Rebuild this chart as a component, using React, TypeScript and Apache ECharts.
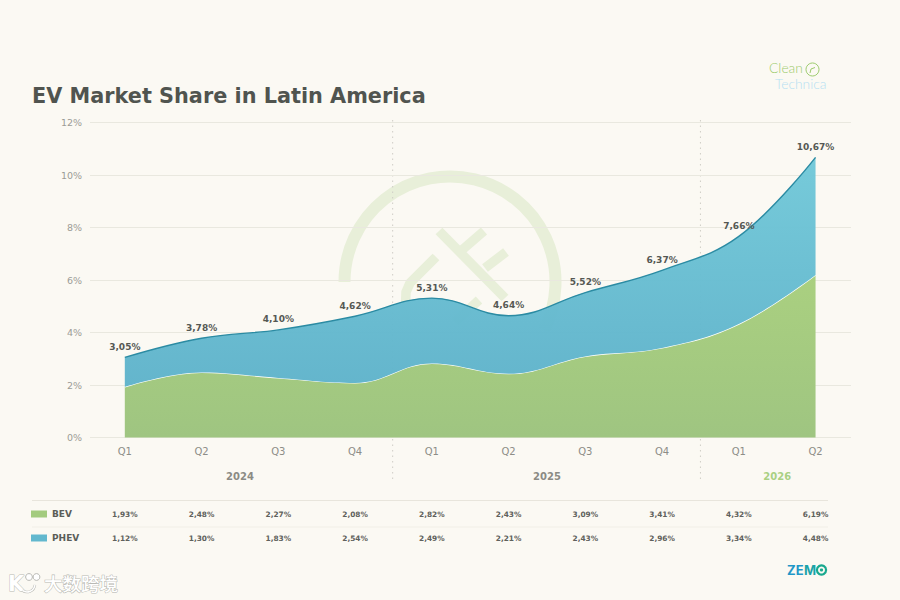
import React, { useEffect, useRef } from "react";
import * as echarts from "echarts";

const quarters = ["Q1", "Q2", "Q3", "Q4", "Q1", "Q2", "Q3", "Q4", "Q1", "Q2"];
const bev = [1.93, 2.48, 2.27, 2.08, 2.82, 2.43, 3.09, 3.41, 4.32, 6.19];
const phev = [1.12, 1.3, 1.83, 2.54, 2.49, 2.21, 2.43, 2.96, 3.34, 4.48];
const years = [
  { label: "2024", at: 1.5, color: "#8b8b84" },
  { label: "2025", at: 5.5, color: "#8b8b84" },
  { label: "2026", at: 8.5, color: "#a9d083" },
];
const separators = [3.49, 7.5];

const fmt = (v: number) => v.toFixed(2).replace(".", ",") + "%";

const BG = "#fbf9f3";
const FONT = "'DejaVu Sans', sans-serif";
const X0 = 124.8;
const STEP = 76.75;
const xAt = (i: number) => X0 + STEP * i;
const WM = "#e8efd9";
const SMOOTH = 0.4;

function tableRow(name: string, color: string, values: number[], y: number) {
  return [
    { type: "rect", shape: { x: 31, y: y - 3.5, width: 16, height: 7 }, style: { fill: color } },
    {
      type: "text", x: 52, y,
      style: { text: name, font: `bold 9px ${FONT}`, fill: "#5a5d58", verticalAlign: "middle", align: "left" },
    },
    ...values.map((v, i) => ({
      type: "text", x: xAt(i), y,
      style: { text: fmt(v), font: `bold 7.4px ${FONT}`, fill: "#5f615c", align: "center", verticalAlign: "middle" },
    })),
  ];
}

function watermark() {
  const s = { stroke: WM, lineWidth: 12, fill: "none" };
  const line = (x1: number, y1: number, x2: number, y2: number) => ({
    type: "line", z: -10, shape: { x1, y1, x2, y2 }, style: { stroke: WM, lineWidth: 9.5 },
  });
  return [
    { type: "arc", z: -10, shape: { cx: 450, cy: 282, r: 105.5, startAngle: Math.PI, endAngle: Math.PI * 2.15, clockwise: true }, style: s },
    line(439, 231, 505, 298),
    line(462, 250, 484, 231),
    line(485, 268, 506, 252),
    line(479, 300, 455, 322),
    {
      type: "polyline", z: -10,
      shape: { points: [[436, 257], [410, 283], [406, 292], [405, 320]] },
      style: { stroke: WM, lineWidth: 9.5, fill: "none" },
    },
  ];
}

function logos() {
  return [
    { type: "text", x: 769, y: 67.5, style: { text: "Clean", font: `300 13.8px Lato, sans-serif`, fill: "#9ccb6d", verticalAlign: "middle" } },
    { type: "circle", shape: { cx: 812.5, cy: 69.5, r: 6.5 }, style: { fill: "none", stroke: "#9ccb6d", lineWidth: 1 } },
    { type: "polyline", shape: { points: [[810, 73], [811, 69], [815, 67.5]] }, style: { fill: "none", stroke: "#9ccb6d", lineWidth: 1 } },
    { type: "text", x: 775, y: 83.5, style: { text: "Technica", font: `300 13.8px Lato, sans-serif`, fill: "#b5dff2", verticalAlign: "middle" } },
    { type: "text", x: 787, y: 570, style: { text: "ZE", font: `bold 13px Inter, sans-serif`, fill: "#1f97c8", verticalAlign: "middle" } },
    { type: "text", x: 804, y: 570, style: { text: "M", font: `bold 13px Inter, sans-serif`, fill: "#1aa3a8", verticalAlign: "middle" } },
    { type: "circle", shape: { cx: 821.5, cy: 570, r: 4.6 }, style: { fill: "#fbf9f3", stroke: "#19a98f", lineWidth: 2.2 } },
    { type: "circle", shape: { cx: 821.5, cy: 570, r: 1.6 }, style: { fill: "#19a98f" } },
    // image-site stamp, bottom left
    { type: "text", x: 44, y: 583, style: { text: "大数跨境", font: `500 18.5px 'Noto Sans CJK SC', sans-serif`, fill: "#ffffff", stroke: "#b9b9b4", lineWidth: 1.1, verticalAlign: "middle" } },
    { type: "text", x: 8, y: 584, style: { text: "K", font: `bold 21px 'DejaVu Sans', sans-serif`, fill: "#ffffff", stroke: "#b9b9b4", lineWidth: 1, verticalAlign: "middle" } },
    { type: "arc", shape: { cx: 27, cy: 584, r: 8, startAngle: 0.1, endAngle: 2.2, clockwise: true }, style: { fill: "none", stroke: "#b9b9b4", lineWidth: 2.5 } },
    { type: "arc", shape: { cx: 27, cy: 584, r: 8, startAngle: 0.1, endAngle: 2.2, clockwise: true }, style: { fill: "none", stroke: "#ffffff", lineWidth: 1.5 } },
    { type: "circle", shape: { cx: 29, cy: 577, r: 3.4 }, style: { fill: "#ffffff", stroke: "#b9b9b4", lineWidth: 1 } },
    { type: "circle", shape: { cx: 36.5, cy: 577, r: 3.4 }, style: { fill: "#ffffff", stroke: "#b9b9b4", lineWidth: 1 } },
  ];
}

export default function App() {
  const ref = useRef<HTMLDivElement>(null);
  useEffect(() => {
    document.body.style.margin = "0";
    const chart = echarts.init(ref.current!, undefined, { renderer: "svg" });
    const graphics: any[] = [
      ...watermark(),
      { type: "text", x: 32, y: 95.5, style: { text: "EV Market Share in Latin America", font: `bold 20.8px ${FONT}`, fill: "#50544f", verticalAlign: "middle" } },
      ...separators.map((s) => ({
        type: "line", z: -5,
        shape: { x1: xAt(s), y1: 120, x2: xAt(s), y2: 482 },
        style: { stroke: "#cfcec6", lineWidth: 1, lineDash: [1.5, 4] },
      })),
      ...years.map((y) => ({
        type: "text", x: xAt(y.at), y: 476,
        style: { text: y.label, font: `bold 10px ${FONT}`, fill: y.color, align: "center", verticalAlign: "middle" },
      })),
      { type: "line", shape: { x1: 32, y1: 500.5, x2: 828, y2: 500.5 }, style: { stroke: "#e8e5dc", lineWidth: 1 } },
      { type: "line", shape: { x1: 32, y1: 527, x2: 828, y2: 527 }, style: { stroke: "#f1efe7", lineWidth: 1 } },
      ...tableRow("BEV", "#a3cb7e", bev, 514),
      ...tableRow("PHEV", "#62b8ce", phev, 538),
      ...logos(),
    ];
    chart.setOption({
      animation: false,
      backgroundColor: BG,
      textStyle: { fontFamily: FONT },
      grid: [
        { left: 90, right: 49, top: 122.5, height: 315 },
        { left: X0, width: STEP * 9, top: 122.5, height: 315 },
      ],
      xAxis: [
        { gridIndex: 0, type: "category", show: false, data: quarters },
        {
          gridIndex: 1, type: "category", boundaryGap: false, data: quarters,
          axisLine: { show: false }, axisTick: { show: false },
          axisLabel: { color: "#8d8d87", fontSize: 10, margin: 9, fontFamily: FONT, interval: 0 },
        },
      ],
      yAxis: [
        {
          gridIndex: 0, type: "value", min: 0, max: 12, interval: 2,
          axisLine: { show: false }, axisTick: { show: false },
          axisLabel: { color: "#9c9c96", fontSize: 9.5, margin: 8, formatter: "{value}%", fontFamily: FONT },
          splitLine: { lineStyle: { color: "#e9e8df", width: 1 } },
        },
        { gridIndex: 1, type: "value", min: 0, max: 12, interval: 2, show: false, splitLine: { show: false } },
      ],
      series: [
        {
          name: "BEV", type: "line", xAxisIndex: 1, yAxisIndex: 1, stack: "share", data: bev,
          smooth: SMOOTH, symbol: "none", z: 3,
          lineStyle: { color: "#ffffff", width: 1.2 },
          areaStyle: {
            opacity: 1,
            color: new echarts.graphic.LinearGradient(0, 0, 0, 1, [
              { offset: 0, color: "#aad080" },
              { offset: 1, color: "#9fc581" },
            ]),
          },
        },
        {
          name: "PHEV", type: "line", xAxisIndex: 1, yAxisIndex: 1, stack: "share", data: phev,
          smooth: SMOOTH, symbol: "circle", symbolSize: 0.01, showSymbol: true, showAllSymbol: true, z: 4,
          itemStyle: { color: "transparent", borderWidth: 0 },
          lineStyle: { color: "#2b8ba3", width: 1.4 },
          areaStyle: {
            opacity: 0.97,
            color: new echarts.graphic.LinearGradient(0, 0, 0, 1, [
              { offset: 0, color: "#72c9d9" },
              { offset: 1, color: "#5fb3cb" },
            ]),
          },
          label: {
            show: true, position: "top", distance: 6,
            formatter: (p: any) => fmt(bev[p.dataIndex] + phev[p.dataIndex]),
            fontFamily: FONT, fontWeight: "bold", fontSize: 9, color: "#555853",
          },
        },
      ],
      graphic: graphics,
    });
    return () => chart.dispose();
  }, []);
  return <div ref={ref} style={{ width: 900, height: 600, position: "absolute", left: 0, top: 0 }} />;
}
